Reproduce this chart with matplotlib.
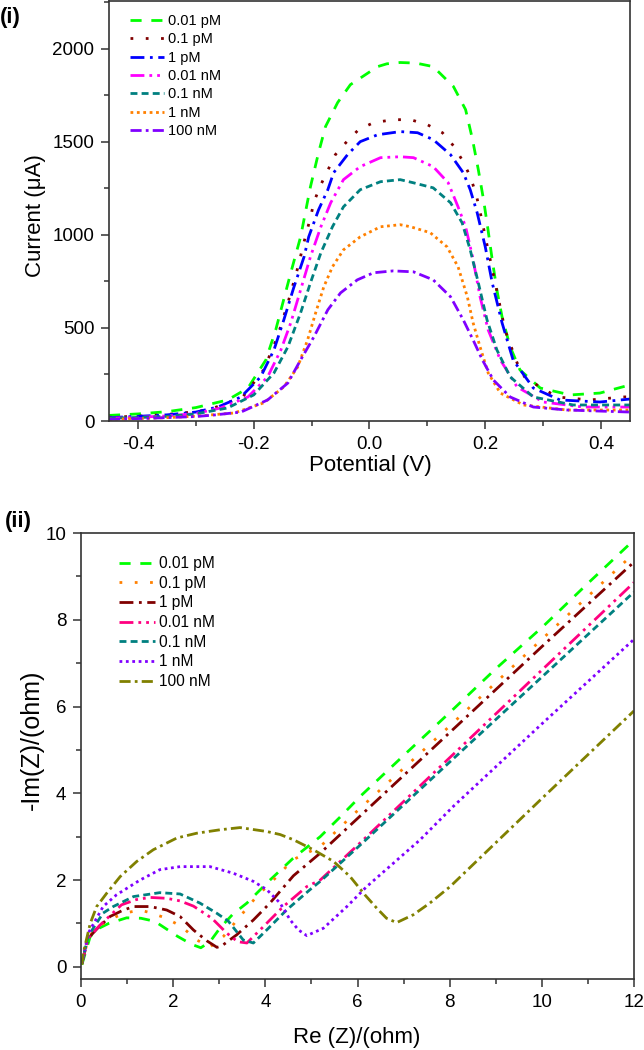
import matplotlib
matplotlib.use('Agg')
import matplotlib.pyplot as plt
from matplotlib.ticker import MultipleLocator

plt.rcParams['font.family'] = ['Liberation Sans', 'DejaVu Sans']

# ---- panel (i): current vs potential ----
labels_i = ['0.01 pM', '0.1 pM', '1 pM', '0.01 nM', '0.1 nM', '1 nM', '100 nM']
colors_i = ['#00ff00', '#800000', '#0000ff', '#ff00ff', '#008080', '#ff8000', '#8000ff']

pot_001pM = [-0.45, -0.40, -0.35, -0.30, -0.245, -0.21, -0.179, -0.162, -0.136, -0.119, -0.102, -0.088,
             -0.076, -0.055, -0.033, 0.014, 0.03, 0.053, 0.08, 0.11, 0.145, 0.166, 0.178, 0.188, 0.197,
             0.204, 0.212, 0.220, 0.229, 0.243, 0.26, 0.295, 0.347, 0.398, 0.45]
cur_001pM = [30, 38, 50, 72, 113, 177, 328, 489, 796, 989, 1258, 1441,
             1581, 1710, 1806, 1903, 1918, 1925, 1922, 1903, 1796, 1672, 1511, 1349, 1188,
             1043, 866, 704, 559, 398, 274, 177, 140, 150, 194]

pot_01pM = [-0.45, -0.40, -0.35, -0.30, -0.274, -0.219, -0.183, -0.159, -0.141, -0.124, -0.110, -0.102,
            -0.096, -0.084, -0.059, -0.041, -0.019, 0.007, 0.041, 0.071, 0.10, 0.126, 0.145, 0.162,
            0.174, 0.184, 0.191, 0.203, 0.216, 0.234, 0.255, 0.269, 0.324, 0.381, 0.438, 0.45]
cur_01pM = [20, 26, 35, 50, 64, 129, 274, 452, 634, 822, 1000, 1091,
            1177, 1269, 1430, 1494, 1564, 1602, 1618, 1618, 1591, 1548, 1478, 1392,
            1312, 1220, 1124, 946, 758, 489, 312, 231, 129, 113, 129, 130]

pot_1pM = [-0.45, -0.40, -0.35, -0.30, -0.262, -0.222, -0.188, -0.165, -0.148, -0.131, -0.113, -0.105,
           -0.088, -0.072, -0.062, -0.038, -0.016, 0.014, 0.053, 0.083, 0.11, 0.14, 0.162, 0.174,
           0.186, 0.20, 0.212, 0.229, 0.248, 0.283, 0.329, 0.398, 0.45]
cur_1pM = [18, 25, 33, 48, 75, 129, 237, 382, 543, 715, 882, 989,
           1134, 1242, 1333, 1430, 1500, 1537, 1554, 1548, 1511, 1430, 1333, 1242,
           1118, 935, 742, 527, 328, 177, 113, 102, 118]

pot_001nM = [-0.45, -0.40, -0.35, -0.30, -0.257, -0.21, -0.176, -0.153, -0.136, -0.119, -0.102, -0.084,
             -0.067, -0.045, -0.016, 0.019, 0.053, 0.076, 0.11, 0.136, 0.153, 0.166, 0.178, 0.191,
             0.205, 0.226, 0.255, 0.30, 0.369, 0.45]
cur_001nM = [15, 20, 27, 40, 70, 129, 237, 382, 527, 704, 882, 1043,
             1172, 1296, 1366, 1414, 1419, 1414, 1366, 1279, 1150, 1043, 882, 667,
             489, 328, 183, 102, 75, 75]

pot_01nM = [-0.45, -0.40, -0.35, -0.30, -0.245, -0.20, -0.165, -0.141, -0.119, -0.102, -0.084, -0.064,
            -0.045, -0.016, 0.019, 0.053, 0.076, 0.11, 0.14, 0.16, 0.174, 0.188, 0.203, 0.22,
            0.243, 0.283, 0.352, 0.45]
cur_01nM = [15, 19, 25, 38, 70, 140, 258, 398, 581, 742, 903, 1043,
            1150, 1242, 1285, 1296, 1279, 1252, 1172, 1064, 919, 742, 543, 382,
            237, 129, 86, 86]

pot_1nM = [-0.45, -0.40, -0.35, -0.30, -0.234, -0.183, -0.148, -0.124, -0.107, -0.093, -0.079, -0.064,
           -0.045, -0.016, 0.019, 0.053, 0.071, 0.105, 0.134, 0.153, 0.169, 0.179, 0.191, 0.205,
           0.226, 0.266, 0.341, 0.45]
cur_1nM = [10, 13, 18, 26, 43, 97, 183, 290, 435, 581, 720, 828,
           919, 989, 1043, 1054, 1043, 1011, 935, 828, 667, 527, 398, 258,
           150, 86, 59, 59]

pot_100nM = [-0.45, -0.40, -0.35, -0.30, -0.269, -0.222, -0.176, -0.141, -0.119, -0.096, -0.072, -0.05,
             -0.021, 0.007, 0.041, 0.076, 0.11, 0.14, 0.162, 0.179, 0.195, 0.214, 0.243, 0.283,
             0.341, 0.45]
cur_100nM = [10, 13, 18, 24, 32, 48, 113, 204, 328, 452, 597, 688,
             758, 796, 806, 801, 758, 667, 543, 435, 328, 220, 129, 75,
             59, 48]

# ---- panel (ii): Nyquist ----
labels_ii = ['0.01 pM', '0.1 pM', '1 pM', '0.01 nM', '0.1 nM', '1 nM', '100 nM']
colors_ii = ['#00ff00', '#ff8000', '#800000', '#ff0080', '#008080', '#8000ff', '#808000']

re_001pM = [0.02, 0.05, 0.2, 0.41, 0.6, 0.99, 1.3, 1.6, 2.1, 2.4, 2.6, 2.8, 3.02, 3.3, 3.6, 4.1, 4.6,
            5.19, 5.62, 6.08, 7.07, 8.03, 9.0, 10.03, 10.98, 11.96, 12]
im_001pM = [0.05, 0.16, 0.7, 0.9, 1.0, 1.13, 1.12, 1.05, 0.7, 0.52, 0.44, 0.58, 0.9, 1.22, 1.47, 2.0, 2.5,
            3.0, 3.45, 3.95, 4.94, 5.89, 6.87, 7.85, 8.82, 9.8, 9.85]

re_01pM = [0.02, 0.17, 0.4, 0.77, 1.0, 1.28, 1.53, 1.85, 2.18, 2.51, 2.8, 3.09, 3.45, 3.81, 4.25, 4.6,
           5.19, 6, 8, 10, 12]
im_01pM = [0.08, 0.7, 0.95, 1.16, 1.25, 1.31, 1.24, 1.12, 0.93, 0.62, 0.46, 0.7, 1.16, 1.62, 2.08, 2.47,
           2.77, 3.6, 5.55, 7.55, 9.53]

re_1pM = [0.02, 0.15, 0.35, 0.63, 0.9, 1.14, 1.5, 1.86, 2.15, 2.44, 2.73, 2.95, 3.05, 3.38, 3.74, 4.1,
          4.61, 5.19, 6, 8, 10, 12]
im_1pM = [0.08, 0.65, 0.88, 1.16, 1.3, 1.39, 1.39, 1.31, 1.16, 0.85, 0.6, 0.45, 0.48, 0.74, 1.08, 1.47,
          2.1, 2.62, 3.42, 5.4, 7.38, 9.33]

re_001nM = [0.02, 0.15, 0.4, 0.88, 1.2, 1.5, 1.86, 2.15, 2.44, 2.84, 3.16, 3.4, 3.6, 3.96, 4.39, 4.9,
            5.19, 6, 8, 10, 12]
im_001nM = [0.08, 0.65, 0.95, 1.43, 1.55, 1.6, 1.58, 1.52, 1.4, 1.12, 0.78, 0.58, 0.55, 0.93, 1.39, 1.85,
            2.0, 2.8, 4.82, 6.84, 8.86]

re_01nM = [0.02, 0.15, 0.48, 0.7, 1.14, 1.71, 2.15, 2.58, 2.94, 3.2, 3.52, 3.74, 4.03, 4.46, 4.97,
           5.19, 6, 8, 10, 12]
im_01nM = [0.08, 0.7, 1.24, 1.39, 1.62, 1.71, 1.68, 1.47, 1.24, 1.05, 0.62, 0.55, 0.85, 1.31, 1.78,
           1.97, 2.75, 4.72, 6.68, 8.64]

re_1nM = [0.02, 0.16, 0.48, 0.77, 1.28, 1.71, 2.15, 2.8, 3.3, 3.74, 4.03, 4.32, 4.54, 4.72, 4.9, 5.26,
          5.77, 6.2, 6.78, 7.36, 8.08, 10, 12]
im_1nM = [0.08, 0.78, 1.39, 1.66, 2.0, 2.24, 2.31, 2.31, 2.16, 1.97, 1.78, 1.47, 1.08, 0.85, 0.72, 0.89,
          1.39, 1.85, 2.39, 2.93, 3.7, 5.6, 7.55]

re_100nM = [0.02, 0.05, 0.2, 0.34, 0.56, 0.85, 1.21, 1.57, 2.08, 2.51, 3.02, 3.45, 4.03, 4.32, 4.61,
            5.04, 5.48, 5.84, 6.16, 6.42, 6.63, 6.85, 7.21, 7.57, 8.01, 10, 12]
im_100nM = [0.05, 0.32, 1.0, 1.39, 1.7, 2.08, 2.43, 2.7, 2.97, 3.08, 3.16, 3.21, 3.12, 3.05, 2.93,
            2.7, 2.43, 2.08, 1.66, 1.35, 1.12, 1.02, 1.2, 1.47, 1.85, 3.88, 5.9]

# dash patterns (in linewidth units), same order in both panels
dash_styles = [(4, 3.5), (1, 4.5), (5, 2, 1, 2), (5, 1.8, 1, 1.8, 1, 1.8),
               (2.5, 1.5), (1, 1.3), (4, 1.5, 1, 1.5)]

spine_col = '#333333'


def style_axes(ax):
    for s in ax.spines.values():
        s.set_color(spine_col)
        s.set_linewidth(1.2)
    ax.tick_params(which='both', direction='out', top=False, right=False,
                   color=spine_col, width=1.1, labelsize=13.5, pad=5)
    ax.tick_params(which='major', length=5.5)
    ax.tick_params(which='minor', length=3.5)


fig = plt.figure(figsize=(6.44, 10.5), dpi=100)

# top panel
ax1 = fig.add_axes([109 / 644, 1 - 421 / 1050, (630 - 109) / 644, 421 / 1050 - 0.001])
pots = [pot_001pM, pot_01pM, pot_1pM, pot_001nM, pot_01nM, pot_1nM, pot_100nM]
curs = [cur_001pM, cur_01pM, cur_1pM, cur_001nM, cur_01nM, cur_1nM, cur_100nM]
for xs, ys, c, d, lab in zip(pots, curs, colors_i, dash_styles, labels_i):
    ax1.plot(xs, ys, color=c, lw=2, dashes=d, label=lab)
ax1.set_xlim(-0.45, 0.45)
ax1.set_ylim(0, 2255)
ax1.xaxis.set_minor_locator(MultipleLocator(0.1))
ax1.yaxis.set_major_locator(MultipleLocator(500))
ax1.yaxis.set_minor_locator(MultipleLocator(250))
ax1.set_xticks([-0.4, -0.2, 0.0, 0.2, 0.4])
ax1.set_xticklabels(['-0.4', '-0.2', '0.0', '0.2', '0.4'])
style_axes(ax1)
ax1.legend(loc='upper left', bbox_to_anchor=(130 / 644, 1 - 14 / 1050),
           bbox_transform=fig.transFigure, frameon=False, fontsize=10.5,
           handlelength=2.3, handletextpad=0.3, labelspacing=0.3, borderpad=0,
           borderaxespad=0)

fig.text(35 / 644, 1 - 216 / 1050, 'Current (\u03bcA)', rotation=90, ha='center', va='center', fontsize=16)
fig.text(370 / 644, 1 - 465 / 1050, 'Potential (V)', ha='center', va='center', fontsize=16)
fig.text(0 / 644, 1 - 18 / 1050, '(i)', ha='left', va='center', fontsize=16, fontweight='bold')

# bottom panel
ax2 = fig.add_axes([81 / 644, 1 - 979 / 1050, (634 - 81) / 644, (979 - 533) / 1050])
res = [re_001pM, re_01pM, re_1pM, re_001nM, re_01nM, re_1nM, re_100nM]
ims = [im_001pM, im_01pM, im_1pM, im_001nM, im_01nM, im_1nM, im_100nM]
for xs, ys, c, d, lab in zip(res, ims, colors_ii, dash_styles, labels_ii):
    ax2.plot(xs, ys, color=c, lw=2, dashes=d, label=lab)
ax2.set_xlim(0, 12)
ax2.set_ylim(-0.28, 10)
ax2.xaxis.set_major_locator(MultipleLocator(2))
ax2.xaxis.set_minor_locator(MultipleLocator(1))
ax2.yaxis.set_major_locator(MultipleLocator(2))
ax2.yaxis.set_minor_locator(MultipleLocator(1))
style_axes(ax2)
ax2.legend(loc='upper left', bbox_to_anchor=(119 / 644, 1 - 556 / 1050),
           bbox_transform=fig.transFigure, frameon=False, fontsize=11.2,
           handlelength=2.3, handletextpad=0.3, labelspacing=0.3, borderpad=0,
           borderaxespad=0)

fig.text(32 / 644, 1 - 740 / 1050, '-Im(Z)/(ohm)', rotation=90, ha='center', va='center', fontsize=18)
fig.text(357 / 644, 1 - 1037 / 1050, 'Re (Z)/(ohm)', ha='center', va='center', fontsize=16)
fig.text(5 / 644, 1 - 522 / 1050, '(ii)', ha='left', va='center', fontsize=16, fontweight='bold')

fig.savefig('out.png', dpi=100)
